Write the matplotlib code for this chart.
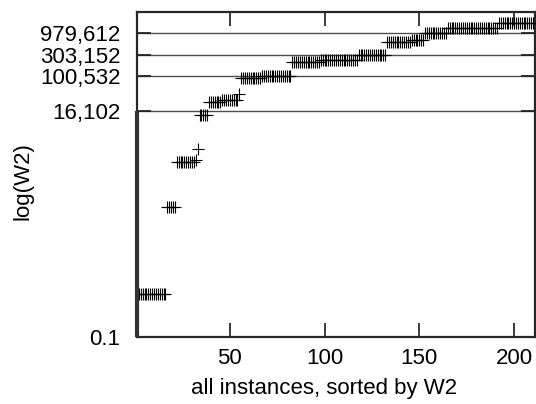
import numpy as np
import matplotlib
matplotlib.use("Agg")
import matplotlib.pyplot as plt

# Plateaus of the sorted W2 values (value, number of instances)
plateau_values = [1.0, 100, 1050, 1200, 2100, 12500, 25000, 28000, 38500,
                  88500, 101600, 215000, 235000, 299000, 599000, 673000,
                  975000, 1280000, 1620000]
plateau_counts = [16, 5, 10, 1, 1, 5, 7, 9, 1,
                  11, 16, 15, 20, 15, 13, 7,
                  12, 27, 19]

ytick_values = [0.1, 16102, 100532, 303152, 979612]
ytick_labels = ["0.1", "16,102", "100,532", "303,152", "979,612"]
xtick_values = [50, 100, 150, 200]

w2 = np.repeat(plateau_values, plateau_counts)
idx = np.arange(1, len(w2) + 1)

plt.rcParams['font.family'] = ['Liberation Sans', 'DejaVu Sans']
fig = plt.figure(figsize=(5.36, 4.04), dpi=100)
ax = fig.add_axes([0.2556, 0.1658, 0.7424, 0.8042])

ax.set_yscale('log')
ax.set_xlim(1, 211)
ax.set_ylim(0.1, 2.95e6)

for v in ytick_values[1:]:
    ax.axhline(v, color='0.3', lw=1.0, zorder=1)

ax.plot(idx, w2, linestyle='none', marker='+', markersize=8, mew=0.8,
        color='black', zorder=3)

# thicker left border below the first grid line
ax.plot([1, 1], [0.1, ytick_values[1]], color='0.2', lw=3, zorder=4,
        clip_on=False, solid_capstyle='butt')

ax.set_yticks(ytick_values)
ax.set_yticklabels(ytick_labels)
ax.yaxis.set_minor_locator(matplotlib.ticker.NullLocator())
ax.set_xticks(xtick_values)
ax.set_xticklabels([str(v) for v in xtick_values])

ax.tick_params(axis='both', direction='in', length=10, width=1.2,
               labelsize=16, color='0.1', top=True, right=True)
ax.tick_params(axis='x', pad=8)
ax.tick_params(axis='y', pad=12)

for s in ax.spines.values():
    s.set_linewidth(1.6)
    s.set_color('0.15')

ax.set_xlabel("all instances, sorted by W2", fontsize=16)
ax.set_ylabel("log(W2)", fontsize=16)
ax.xaxis.set_label_coords(0.47, -0.125)
ax.yaxis.set_label_coords(-0.26, 0.48)

fig.savefig("out.png", dpi=100)
